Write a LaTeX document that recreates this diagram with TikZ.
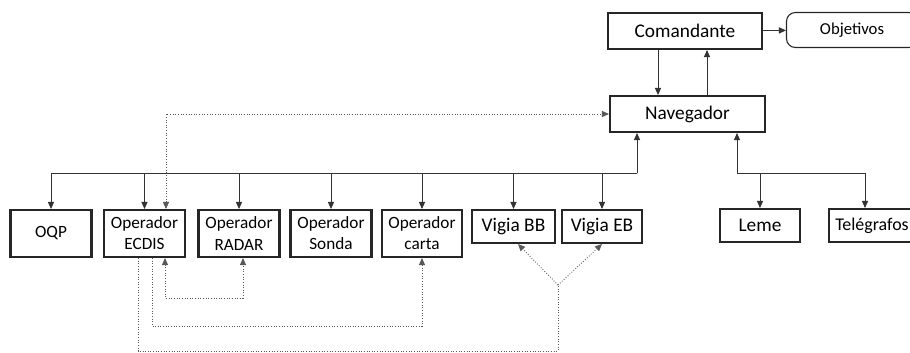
\documentclass[tikz,border=0pt]{standalone}
\usepackage{fontspec}
\setmainfont{Carlito}
\usetikzlibrary{arrows.meta}
\tikzset{
    box/.style={draw=black!85,line width=1.2pt,minimum height=0.72cm,align=center,font=\fontsize{11}{12}\selectfont},
    opbox/.style={box,minimum width=1.62cm,minimum height=0.94cm,font=\fontsize{9.8}{12}\selectfont},
    link/.style={draw=black!80,line width=0.5pt},
    dots/.style={draw=black!65,line width=0.5pt,densely dotted},
}
\begin{document}
\begin{tikzpicture}[x=0.02cm,y=-0.02cm,>={Triangle[length=4pt,width=3.5pt]}]
            \useasboundingbox (0,0) rectangle (910,352);

            \node[box,minimum width=3.08cm] (cmd) at (685,31) {Comandante};
            \node[box,rounded corners=5pt,line width=0.6pt,minimum width=2.62cm,minimum height=0.7cm,font=\fontsize{9.5}{11}\selectfont] (obj) at (852,30) {Objetivos};
            \node[box,minimum width=3.1cm] (nav) at (687.5,114) {Navegador};

            \node[opbox] (oqp) at (51,233.5) {OQP};
            \node[opbox] (ecdis) at (144.5,233.5) {Operador\\ECDIS};
            \node[opbox] (radar) at (239,233.5) {Operador\\RADAR};
            \node[opbox] (sonda) at (331,233.5) {Operador\\Sonda};
            \node[opbox,minimum width=1.6cm] (carta) at (422,233.5) {Operador\\carta};
            \node[box,minimum width=1.66cm,minimum height=0.66cm] (vbb) at (513.5,226.5) {Vigia BB};
            \node[box,minimum width=1.6cm,minimum height=0.66cm] (veb) at (602,226.5) {Vigia EB};
            \node[box,minimum width=1.6cm,minimum height=0.66cm] (leme) at (760,225.5) {Leme};
            \node[box,minimum width=1.72cm,minimum height=0.66cm,font=\fontsize{10.2}{12}\selectfont] (tel) at (872,225.5) {Telégrafos};

            \draw[link,->] (cmd) -- (obj);
            \draw[link,->] ([xshift=-0.54cm]cmd.south) -- ([xshift=-0.54cm]cmd.south |- nav.north);
            \draw[link,->] ([xshift=0.44cm]cmd.south |- nav.north) -- ([xshift=0.44cm]cmd.south);

            \coordinate (busl) at (637,173);
            \draw[link,->] (busl) -- (busl |- nav.south);
            \foreach \n in {oqp,ecdis,radar,sonda,carta,vbb,veb}
                \draw[link,->] (busl) -| (\n.north);

            \coordinate (busr) at (737,173);
            \draw[link,->] (busr) -- (busr |- nav.south);
            \draw[link,->] (busr) -| (leme.north);
            \draw[link,->] (busr) -| ([xshift=-0.14cm]tel.north);

            \draw[dots,<->] ([xshift=0.43cm]ecdis.north) |- (nav.west);
            \draw[dots,<->] ([xshift=0.41cm]ecdis.south) -- ++(0,40) -| ([xshift=0.08cm]radar.south);
            \draw[dots,->] ([xshift=0.15cm]ecdis.south) -- ++(0,68) -| (carta.south);

            \coordinate (vsplit) at (558,285);
            \draw[dots] ([xshift=-0.13cm]ecdis.south) -- ++(0,93) -| (vsplit);
            \draw[dots,->] (vsplit) -- ([xshift=0.09cm]vbb.south);
            \draw[dots,->] (vsplit) -- (veb.south);
        \end{tikzpicture}
\end{document}
